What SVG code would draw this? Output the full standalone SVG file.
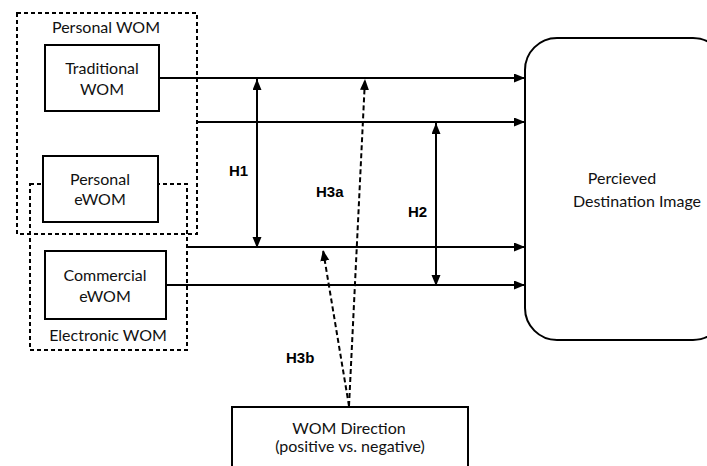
<svg xmlns="http://www.w3.org/2000/svg" width="707" height="466" viewBox="0 0 707 466">
<style>
.box{fill:#fff;stroke:#000;stroke-width:2}
.grp{fill:none;stroke:#000;stroke-width:2;stroke-dasharray:4 3}
.t{font-family:Lato,"Liberation Sans",sans-serif;font-size:16px;fill:#111;text-anchor:middle}
.h{font-family:"Liberation Sans",Arial,sans-serif;font-size:15px;font-weight:bold;fill:#000}
.ln{fill:none;stroke:#000;stroke-width:2}
.dl{fill:none;stroke:#000;stroke-width:2;stroke-dasharray:5 3}
</style>
<defs>
<marker id="ah" markerUnits="userSpaceOnUse" markerWidth="12" markerHeight="10" refX="11" refY="4.5" orient="auto-start-reverse">
<path d="M0,0 L11,4.5 L0,9 z" fill="#000"/>
</marker>
</defs>
<rect width="707" height="466" fill="#fff"/>
<g id="personal-wom">
<rect class="grp" x="17" y="13" width="180" height="221"/>
<text class="t" x="106" y="33">Personal WOM</text>
</g>
<g id="electronic-wom">
<rect class="grp" x="30" y="184" width="157" height="166"/>
<text class="t" x="108" y="341">Electronic WOM</text>
</g>
<g id="traditional-wom">
<rect class="box" x="45" y="45" width="114" height="66"/>
<text class="t" x="102" y="74">Traditional</text>
<text class="t" x="102" y="95">WOM</text>
</g>
<g id="personal-ewom">
<rect class="box" x="43" y="156" width="115" height="66"/>
<text class="t" x="100" y="185">Personal</text>
<text class="t" x="100" y="205">eWOM</text>
</g>
<g id="commercial-ewom">
<rect class="box" x="45" y="251" width="121" height="68"/>
<text class="t" x="105" y="281">Commercial</text>
<text class="t" x="105" y="302">eWOM</text>
</g>
<g id="destination-image">
<rect class="box" x="525" y="38" width="200" height="302" rx="32" ry="32"/>
<text class="t" x="622" y="184">Percieved</text>
<text class="t" x="637" y="207">Destination Image</text>
</g>
<g id="wom-direction">
<rect class="box" x="232" y="407" width="236" height="80"/>
<text class="t" x="349" y="434">WOM Direction</text>
<text class="t" x="350" y="452">(positive vs. negative)</text>
</g>
<g id="connectors">
<line class="ln" x1="159" y1="78" x2="525" y2="78" marker-end="url(#ah)"/>
<line class="ln" x1="197" y1="122" x2="525" y2="122" marker-end="url(#ah)"/>
<line class="ln" x1="187" y1="247" x2="525" y2="247" marker-end="url(#ah)"/>
<line class="ln" x1="166" y1="285" x2="525" y2="285" marker-end="url(#ah)"/>
<line class="ln" x1="257" y1="79" x2="257" y2="248" marker-start="url(#ah)" marker-end="url(#ah)"/>
<line class="ln" x1="436" y1="123" x2="436" y2="286" marker-start="url(#ah)" marker-end="url(#ah)"/>
<line class="dl" x1="349" y1="406" x2="365" y2="79" marker-end="url(#ah)"/>
<line class="dl" x1="349" y1="406" x2="323" y2="250" marker-end="url(#ah)"/>
<text class="h" x="229" y="176">H1</text>
<text class="h" x="316" y="197">H3a</text>
<text class="h" x="408" y="217">H2</text>
<text class="h" x="286" y="363">H3b</text>
</g>
</svg>
